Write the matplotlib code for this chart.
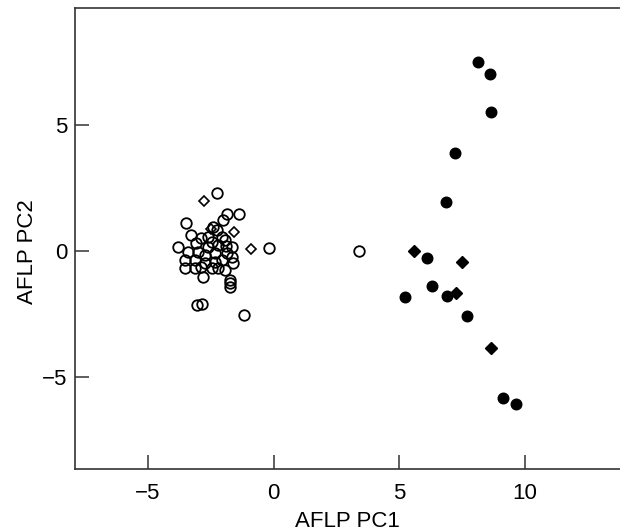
import matplotlib
matplotlib.use("Agg")
import matplotlib.pyplot as plt

plt.rcParams['font.family'] = ['Liberation Sans', 'DejaVu Sans']

# open circles (left cluster + one outlier)
open_circ_x = [-2.26, -3.48, -1.87, -1.37, -2.01, -3.80, -3.27, -2.87, -2.60, -2.27,
               -2.07, -1.94, -3.07, -2.60, -2.20, -3.40, -3.00, -2.74, -2.34, -3.53,
               -3.13, -2.74, -2.34, -2.07, -1.67, -1.61, -3.13, -2.87, -2.47, -1.94,
               -2.80, -1.74, -1.73, -1.73, -3.05, -2.85, -1.16, -0.20, -2.40, -3.52,
               -2.20, -1.65, -1.84, -2.44, -1.89, 3.39]
open_circ_y = [2.28, 1.09, 1.46, 1.44, 1.22, 0.16, 0.62, 0.49, 0.56, 0.82,
               0.56, 0.43, 0.29, 0.16, 0.23, -0.04, -0.04, -0.17, -0.10, -0.37,
               -0.37, -0.50, -0.44, -0.37, -0.24, -0.50, -0.70, -0.64, -0.70, -0.77,
               -1.03, -1.16, -1.30, -1.43, -2.16, -2.12, -2.55, 0.10, 0.94, -0.69,
               -0.69, 0.15, -0.09, 0.35, 0.19, -0.01]

# open diamonds
open_dia_x = [-2.76, -1.57, -0.91, -2.50]
open_dia_y = [1.99, 0.74, 0.05, 0.86]

# filled circles
fill_circ_x = [8.16, 8.64, 8.67, 7.24, 6.87, 6.13, 6.32, 5.24, 6.89, 7.71, 9.13, 9.64]
fill_circ_y = [7.51, 7.01, 5.50, 3.87, 1.95, -0.30, -1.40, -1.83, -1.80, -2.59, -5.86, -6.10]

# filled diamonds
fill_dia_x = [5.58, 7.51, 7.28, 8.68]
fill_dia_y = [0.00, -0.44, -1.69, -3.85]

fig = plt.figure(figsize=(6.2, 5.32), dpi=100)
ax = fig.add_axes([0.1205, 0.1179, 0.8795, 0.868])

ax.plot(open_circ_x, open_circ_y, 'o', ms=7.6, mfc='none', mec='black', mew=1.3, ls='none')
ax.plot(open_dia_x, open_dia_y, 'D', ms=5.5, mfc='none', mec='black', mew=1.2, ls='none')
ax.plot(fill_circ_x, fill_circ_y, 'o', ms=7.6, mfc='black', mec='black', ls='none')
ax.plot(fill_dia_x, fill_dia_y, 'D', ms=6, mfc='black', mec='black', ls='none')

ax.set_xlim(-7.92, 13.8)
ax.set_ylim(-8.68, 9.66)
ax.set_xticks([-5, 0, 5, 10])
ax.set_yticks([-5, 0, 5])

for s in ['left', 'bottom', 'top']:
    ax.spines[s].set_linewidth(1.2)
    ax.spines[s].set_color('#333333')
ax.spines['right'].set_visible(False)

ax.tick_params(direction='in', length=10, width=1.1, color='#333333', labelsize=16)
ax.tick_params(axis='x', pad=10)
ax.tick_params(axis='y', pad=5)

ax.set_xlabel('AFLP PC1', fontsize=16)
ax.set_ylabel('AFLP PC2', fontsize=16)
ax.xaxis.set_label_coords(0.5, -0.09)
ax.yaxis.set_label_coords(-0.068, 0.471)

fig.savefig('out.png', dpi=100)
